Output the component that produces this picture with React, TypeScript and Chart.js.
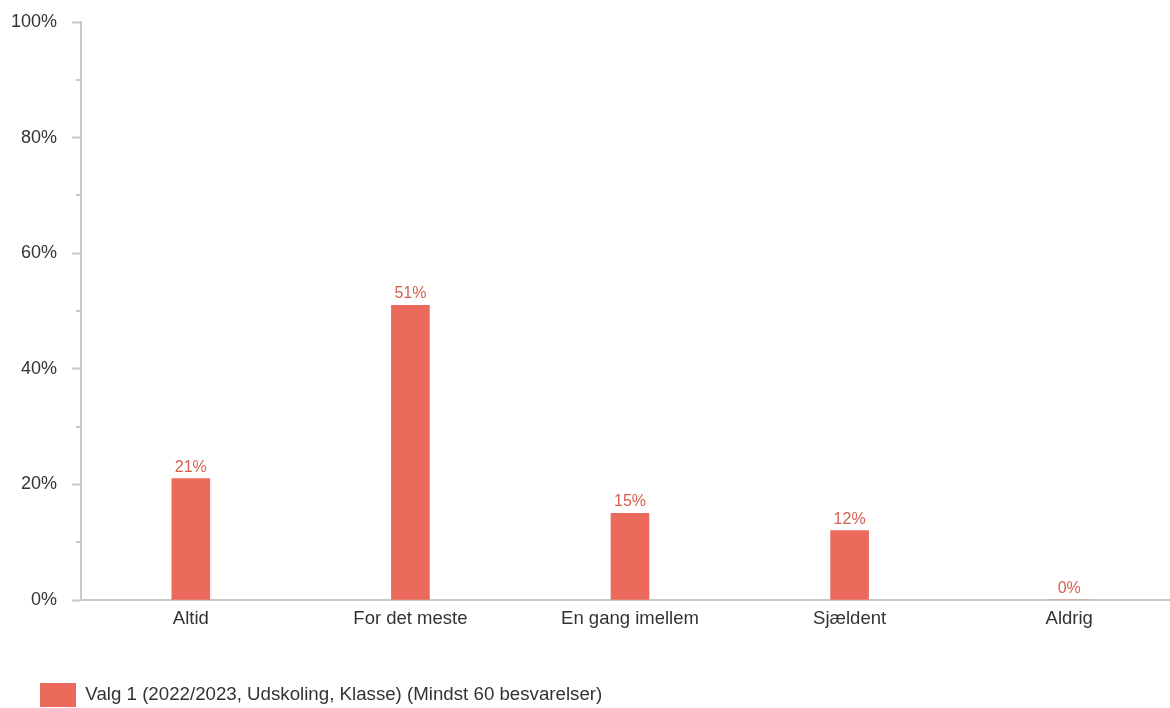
import React, { useEffect, useRef } from "react";
import { Chart, registerables } from "chart.js";

Chart.register(...registerables);

const categories = ["Altid", "For det meste", "En gang imellem", "Sjældent", "Aldrig"];
const values = [21, 51, 15, 12, 0];
const seriesLabel = "Valg 1 (2022/2023, Udskoling, Klasse) (Mindst 60 besvarelser)";
const yTickValues = [0, 20, 40, 60, 80, 100];

const FONT = "'Liberation Sans', Arial, sans-serif";
const BAR_COLOR = "#ec6a5c";
const LABEL_COLOR = "#d6604f";
const AXIS_COLOR = "#c8c8c8";
const TEXT_COLOR = "#333333";

const minorTicksPlugin = {
  id: "minorTicks",
  afterDraw(chart: any) {
    const y = chart.scales.y;
    const ctx = chart.ctx;
    ctx.save();
    ctx.strokeStyle = AXIS_COLOR;
    ctx.lineWidth = 2;
    for (let v = 10; v < 100; v += 20) {
      const py = Math.round(y.getPixelForValue(v));
      ctx.beginPath();
      ctx.moveTo(chart.chartArea.left - 5, py);
      ctx.lineTo(chart.chartArea.left, py);
      ctx.stroke();
    }
    ctx.restore();
  },
};

const dataLabelPlugin = {
  id: "dataLabels",
  afterDatasetsDraw(chart: any) {
    const ctx = chart.ctx;
    const meta = chart.getDatasetMeta(0);
    ctx.save();
    ctx.font = `16px ${FONT}`;
    ctx.fillStyle = LABEL_COLOR;
    ctx.textAlign = "center";
    ctx.textBaseline = "alphabetic";
    meta.data.forEach((bar: any, i: number) => {
      const v = chart.data.datasets[0].data[i];
      ctx.fillText(`${v}%`, bar.x, bar.y - 7);
    });
    ctx.restore();
  },
};

export default function App() {
  const ref = useRef<HTMLCanvasElement>(null);
  useEffect(() => {
    if (!ref.current) return;
    const chart = new Chart(ref.current, {
      type: "bar",
      data: {
        labels: categories,
        datasets: [
          {
            label: seriesLabel,
            data: values,
            backgroundColor: BAR_COLOR,
            borderWidth: 0,
            barThickness: 38,
          },
        ],
      },
      options: {
        responsive: false,
        animation: false,
        layout: { padding: { left: 11, right: 1, top: 22, bottom: 0 } },
        scales: {
          x: {
            grid: { display: false, drawTicks: false },
            border: { display: true, color: AXIS_COLOR, width: 2 },
            ticks: {
              color: TEXT_COLOR,
              font: { family: FONT, size: 18.5 },
              padding: 8,
              maxRotation: 0,
              autoSkip: false,
            },
            afterFit: (scale: any) => {
              scale.height = 54;
            },
          },
          y: {
            min: 0,
            max: 100,
            afterBuildTicks: (scale: any) => {
              scale.ticks = yTickValues.map((v) => ({ value: v }));
            },
            grid: {
              drawOnChartArea: false,
              drawTicks: true,
              tickLength: 9,
              tickColor: AXIS_COLOR,
              tickWidth: 2,
            },
            border: { display: true, color: AXIS_COLOR, width: 2 },
            ticks: {
              color: TEXT_COLOR,
              font: { family: FONT, size: 18 },
              padding: 15,
              callback: (v: any) => `${v}%`,
            },
            afterFit: (scale: any) => {
              scale.width = 70;
              scale.paddingTop = 0;
              scale.paddingBottom = 0;
            },
          },
        },
        plugins: {
          legend: {
            position: "bottom",
            align: "start",
            labels: {
              boxWidth: 36,
              boxHeight: 24,
              padding: 29,
              color: TEXT_COLOR,
              font: { family: FONT, size: 18.7 },
            },
          },
          tooltip: { enabled: false },
        },
      },
      plugins: [minorTicksPlugin, dataLabelPlugin],
    });
    return () => chart.destroy();
  }, []);

  return (
    <div
      style={{
        position: "fixed",
        left: 0,
        top: 0,
        width: 1170,
        height: 708,
        overflow: "hidden",
        background: "#ffffff",
      }}
    >
      <canvas ref={ref} width={1180} height={717} style={{ display: "block" }} />
    </div>
  );
}
